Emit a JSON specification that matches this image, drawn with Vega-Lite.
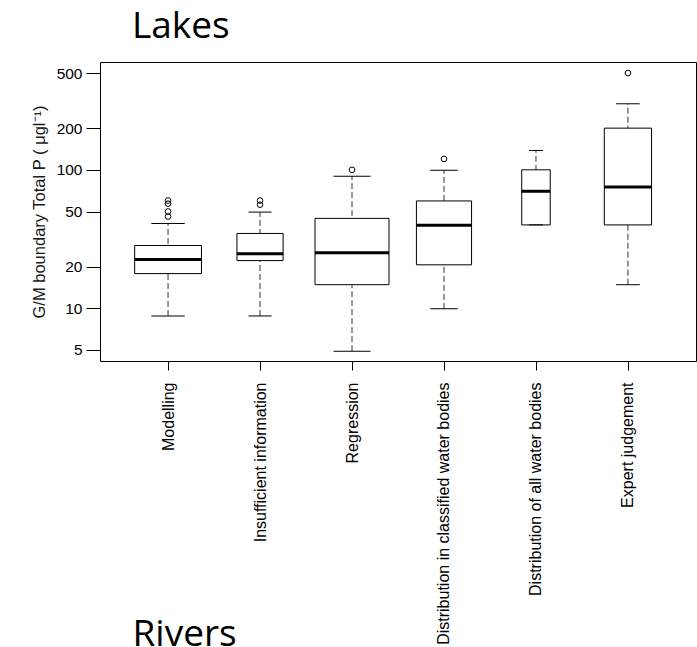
{
  "$schema": "https://vega.github.io/schema/vega-lite/v6.json",
  "autosize": "none",
  "padding": {"left": 100, "top": 62, "right": 1, "bottom": 286},
  "width": 596,
  "height": 299,
  "background": "white",
  "config": {
    "view": {"stroke": "black", "strokeWidth": 1},
    "font": "Liberation Sans"
  },
  "title": {
    "text": "Lakes",
    "anchor": "start",
    "frame": "group",
    "font": "Open Sans",
    "fontSize": 37,
    "fontWeight": "normal",
    "color": "black",
    "baseline": "alphabetic",
    "dx": 32,
    "offset": -13
  },
  "datasets": {
    "stats": [
      {"method": "Modelling", "n": 22, "lower": 8.8, "q1": 17.8, "median": 22.5, "q3": 28.4, "upper": 41},
      {"method": "Insufficient information", "n": 10.5, "lower": 8.8, "q1": 22.1, "median": 24.8, "q3": 34.7, "upper": 49.5},
      {"method": "Regression", "n": 27, "lower": 4.9, "q1": 14.8, "median": 25.2, "q3": 44.6, "upper": 90},
      {"method": "Distribution in classified water bodies", "n": 15, "lower": 9.9, "q1": 20.6, "median": 39.7, "q3": 59.6, "upper": 99.5},
      {"method": "Distribution of all water bodies", "n": 4, "lower": 40, "q1": 40, "median": 70, "q3": 100, "upper": 138},
      {"method": "Expert judgement", "n": 11, "lower": 14.8, "q1": 40, "median": 75, "q3": 200, "upper": 300}
    ],
    "outliers": [
      {"method": "Modelling", "value": 46},
      {"method": "Modelling", "value": 50},
      {"method": "Modelling", "value": 57},
      {"method": "Modelling", "value": 60},
      {"method": "Insufficient information", "value": 56},
      {"method": "Insufficient information", "value": 60},
      {"method": "Regression", "value": 100},
      {"method": "Distribution in classified water bodies", "value": 120},
      {"method": "Expert judgement", "value": 500}
    ]
  },
  "encoding": {
    "x": {
      "field": "method",
      "type": "nominal",
      "sort": null,
      "scale": {"type": "point", "padding": 0.74},
      "axis": {
        "title": "Rivers",
        "titleFont": "Open Sans",
        "titleFontSize": 37,
        "titleFontWeight": "normal",
        "titleColor": "black",
        "titleAnchor": "start",
        "titleAlign": "left",
        "titleBaseline": "alphabetic",
        "titleX": 32,
        "titleY": 284,
        "domain": false,
        "grid": false,
        "ticks": true,
        "tickColor": "black",
        "tickSize": 9,
        "labelAngle": 270,
        "labelPadding": 12,
        "labelFont": "Liberation Sans",
        "labelFontSize": 16,
        "labelColor": "black",
        "labelLimit": 400
      }
    }
  },
  "layer": [
    {
      "data": {"name": "stats"},
      "mark": {"type": "rule", "color": "#333", "strokeWidth": 1, "strokeDash": [6, 3]},
      "encoding": {
        "y": {
          "field": "lower",
          "type": "quantitative",
          "scale": {"type": "log", "domain": [4.16, 601], "nice": false, "zero": false},
          "axis": {
            "title": "G/M boundary Total P ( μgl⁻¹)",
            "titleFont": "Liberation Sans",
            "titleFontSize": 16.5,
            "titleFontWeight": "normal",
            "titleColor": "#1a1a1a",
            "titlePadding": 9,
            "values": [5, 10, 20, 50, 100, 200, 500],
            "format": "d",
            "domain": false,
            "grid": false,
            "tickColor": "black",
            "tickSize": 14,
            "labelPadding": 4,
            "labelFont": "Liberation Sans",
            "labelFontSize": 15.5,
            "labelColor": "black"
          }
        },
        "y2": {"field": "upper"}
      }
    },
    {
      "data": {"name": "stats"},
      "mark": {"type": "bar", "fill": "white", "stroke": "black", "strokeWidth": 1},
      "encoding": {
        "y": {"field": "q1", "type": "quantitative"},
        "y2": {"field": "q3"},
        "size": {"field": "n", "type": "quantitative", "scale": {"type": "sqrt", "domain": [0, 27], "range": [0, 74], "zero": true}, "legend": null}
      }
    },
    {
      "data": {"name": "stats"},
      "mark": {"type": "tick", "color": "black", "thickness": 3, "opacity": 1},
      "encoding": {
        "y": {"field": "median", "type": "quantitative"},
        "size": {"field": "n", "type": "quantitative", "scale": {"type": "sqrt", "domain": [0, 27], "range": [0, 74], "zero": true}, "legend": null}
      }
    },
    {
      "data": {"name": "stats"},
      "mark": {"type": "tick", "color": "black", "thickness": 1, "opacity": 1},
      "encoding": {
        "y": {"field": "upper", "type": "quantitative"},
        "size": {"field": "n", "type": "quantitative", "scale": {"type": "sqrt", "domain": [0, 27], "range": [0, 37], "zero": true}, "legend": null}
      }
    },
    {
      "data": {"name": "stats"},
      "mark": {"type": "tick", "color": "black", "thickness": 1, "opacity": 1},
      "encoding": {
        "y": {"field": "lower", "type": "quantitative"},
        "size": {"field": "n", "type": "quantitative", "scale": {"type": "sqrt", "domain": [0, 27], "range": [0, 37], "zero": true}, "legend": null}
      }
    },
    {
      "data": {"name": "outliers"},
      "mark": {"type": "point", "shape": "circle", "filled": false, "stroke": "black", "strokeWidth": 1, "size": 32, "opacity": 1},
      "encoding": {
        "y": {"field": "value", "type": "quantitative"}
      }
    }
  ],
  "resolve": {"scale": {"size": "independent"}}
}
